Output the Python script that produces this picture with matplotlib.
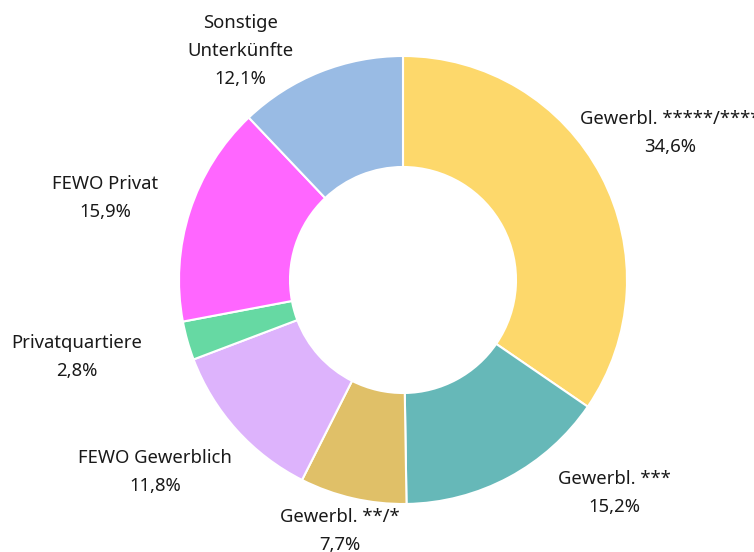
import matplotlib.pyplot as plt

labels = ["Gewerbl. *****/****", "Gewerbl. ***", "Gewerbl. **/*", "FEWO Gewerblich",
          "Privatquartiere", "FEWO Privat", "Sonstige\nUnterkünfte"]
shares = [34.6, 15.2, 7.7, 11.8, 2.8, 15.9, 12.1]
colors = ["#FDD86B", "#66B8B8", "#E0C068", "#DDB3FC", "#66D9A3", "#FF66FF", "#99BBE4"]

# label centres in pixels (x from left, y from top)
label_pos = [(670, 133), (614, 493), (340, 531), (155, 472), (77, 357), (105, 198), (240, 51)]

W, H = 754, 552
fig = plt.figure(figsize=(W / 100, H / 100), dpi=100)
ax = fig.add_axes([0, 0, 1, 1])

ax.pie(shares, colors=colors, startangle=90, counterclock=False,
       center=(403, H - 280), radius=224,
       wedgeprops=dict(width=111, edgecolor="white", linewidth=1.5))

for lab, val, (x, y) in zip(labels, shares, label_pos):
    txt = lab + "\n" + f"{val:.1f}".replace(".", ",") + "%"
    ax.text(x, H - y, txt, ha="center", va="center", fontsize=13.3,
            family="Noto Sans", weight="light", color="#1a1a1a", linespacing=1.72)

ax.set_xlim(0, W)
ax.set_ylim(0, H)
ax.set_aspect("equal")
ax.axis("off")

fig.savefig("out.png", dpi=100)
